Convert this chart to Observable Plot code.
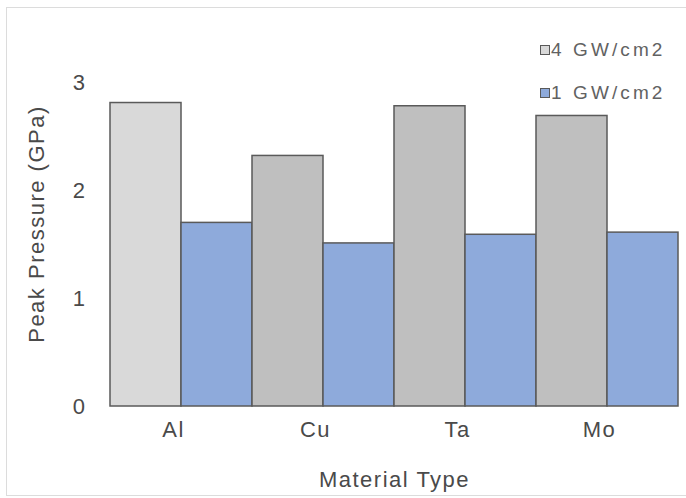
<!DOCTYPE html>
<html>
<head>
<meta charset="utf-8">
<script src="https://cdn.jsdelivr.net/npm/d3@7"></script>
<script src="https://cdn.jsdelivr.net/npm/@observablehq/plot@0.6"></script>
<style>
  html, body { margin: 0; padding: 0; background: #fff; overflow: hidden; }
  #chart { position: relative; width: 686px; height: 498px; font-family: "Liberation Sans", Arial, sans-serif; }
  #frame { position: absolute; left: 6px; top: 7px; width: 690px; height: 489px; border: 1.5px solid #dcdcdc; box-sizing: border-box; pointer-events: none; }
  #legend { position: absolute; left: 540px; top: 38px; color: #626262; font-size: 19px; letter-spacing: 3.1px; }
  #legend .item { display: flex; align-items: center; height: 24px; margin-bottom: 19px; }
  #legend .sw { width: 8px; height: 8px; border: 1px solid #595959; margin-right: 1px; }
  #ytitle { position: absolute; left: 37px; top: 224px; transform: translate(-50%, -50%) rotate(-90deg); white-space: nowrap; color: #4a4a4a; font-size: 22px; letter-spacing: 1.5px; }
</style>
</head>
<body>
<div id="chart"><div id="frame"></div><div id="ytitle"></div><div id="legend"></div></div>
<script>
// Peak pressure by target material at two laser intensities
const materials = ["Al", "Cu", "Ta", "Mo"];
const series = ["4 GW/cm2", "1 GW/cm2"];
const pressure4GW = [2.81, 2.32, 2.78, 2.69];
const pressure1GW = [1.70, 1.51, 1.59, 1.61];
const yTicks = [0, 1, 2, 3];
const xTitle = "Material Type";
const yTitle = "Peak Pressure (GPa)";

const rows = materials.flatMap((m, i) => [
  {material: m, series: series[0], value: pressure4GW[i]},
  {material: m, series: series[1], value: pressure1GW[i]}
]);

const blue = "#8eaadb";
const gray = "#bfbfbf";
const lightGray = "#d9d9d9";
const ink = "#4a4a4a";
const fillOf = d => d.series === series[1] ? blue : (d.material === "Al" ? lightGray : gray);

const chart = Plot.plot({
  width: 686,
  height: 498,
  marginTop: 82,
  marginBottom: 92,
  marginLeft: 109,
  marginRight: 8,
  style: {fontFamily: "'Liberation Sans', Arial, sans-serif", fontSize: "22px", letterSpacing: "1.5px", color: ink, background: "transparent", overflow: "visible"},
  fx: {domain: materials, padding: 0},
  x: {domain: series, padding: 0, axis: null},
  y: {domain: [0, 3]},
  marks: [
    Plot.barY(rows, {fx: "material", x: "series", y: "value", fill: fillOf, stroke: "#5a5a5a", strokeWidth: 1.5}),
    Plot.axisY({ticks: yTicks, tickFormat: d => String(d), tickSize: 0, tickPadding: 24, label: null, fill: ink}),
    Plot.axisFx({anchor: "bottom", tickSize: 0, tickPadding: 15, dx: -8, label: xTitle, labelAnchor: "center", labelOffset: 80, fill: ink})
  ]
});
chart.style.position = "absolute";
chart.style.left = "0px";
chart.style.top = "0px";
document.getElementById("chart").insertBefore(chart, document.getElementById("ytitle"));

document.getElementById("ytitle").textContent = yTitle;

// Legend entries, same fills as the first bar of each series
const legend = document.getElementById("legend");
[[series[0], lightGray], [series[1], blue]].forEach(([name, color]) => {
  const item = document.createElement("div");
  item.className = "item";
  const sw = document.createElement("span");
  sw.className = "sw";
  sw.style.background = color;
  const label = document.createElement("span");
  label.textContent = name;
  item.appendChild(sw);
  item.appendChild(label);
  legend.appendChild(item);
});
</script>
</body>
</html>
